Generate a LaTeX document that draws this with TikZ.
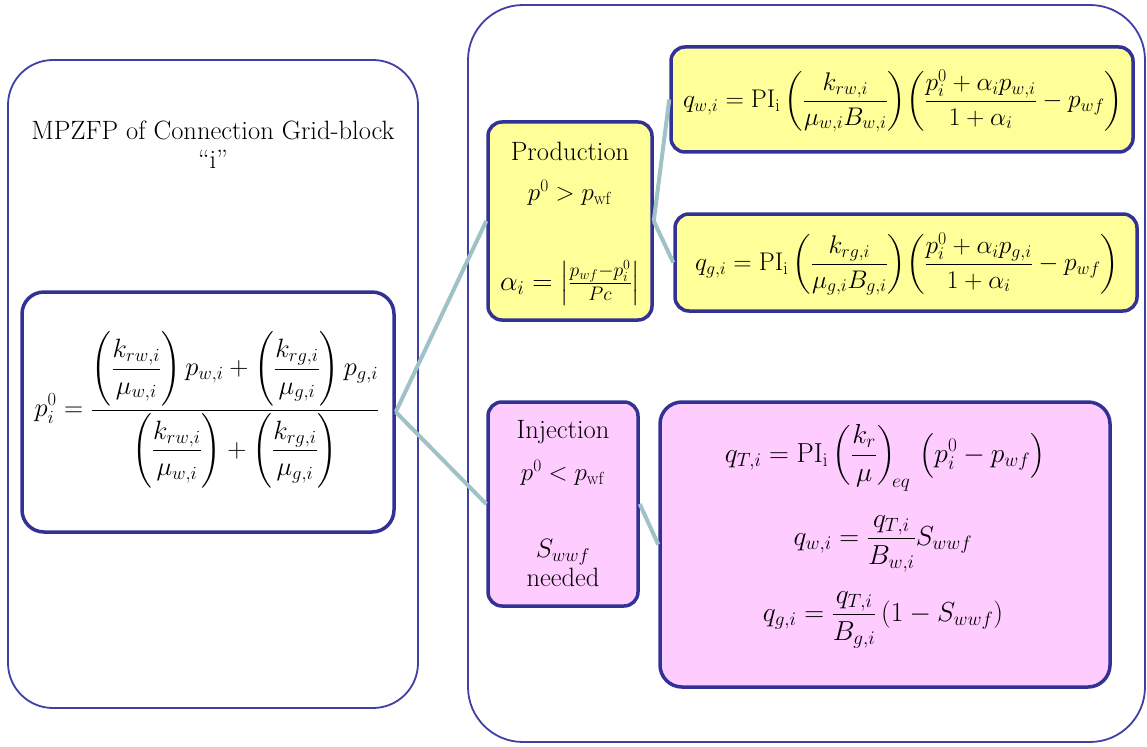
\RequirePackage{fix-cm}
\documentclass[tikz,border=0pt]{standalone}
\usepackage{amsmath}
\definecolor{frameblue}{RGB}{64,64,164}
\definecolor{boxblue}{RGB}{50,50,150}
\definecolor{conn}{RGB}{158,194,198}
\definecolor{yel}{RGB}{255,255,153}
\definecolor{pnk}{RGB}{255,204,255}
\begin{document}
\begin{tikzpicture}[x=1pt,y=-1pt,
  outer/.style={draw=frameblue, line width=1.8pt, rounded corners=45pt, inner sep=0pt},
  eqbox/.style={draw=boxblue, line width=3.5pt, rounded corners=22pt, inner sep=0pt},
  smallbox/.style={draw=boxblue, line width=3.5pt, rounded corners=14pt, inner sep=0pt},
  link/.style={draw=conn, line width=4pt},
  lbl/.style={inner sep=0pt, align=center, font=\fontsize{26.5}{29}\selectfont},
  eq/.style={inner sep=0pt, font=\fontsize{25}{29}\selectfont},
  eqa/.style={inner sep=0pt, font=\fontsize{25.5}{30}\selectfont},
  eqb/.style={inner sep=0pt, font=\fontsize{27.5}{32}\selectfont}]
\useasboundingbox (0,0) rectangle (1147,746);
% outer frames
\node[outer, minimum width=410pt, minimum height=648pt] (left) at (213,384) {};
\node[outer, rounded corners=55pt, minimum width=677pt, minimum height=737pt] (right) at (806.5,373.5) {};
% boxes
\node[eqbox, fill=white, minimum width=372pt, minimum height=240pt] (p) at (208,412) {};
\node[smallbox, fill=yel, minimum width=164pt, minimum height=198pt] (prod) at (570,221) {};
\node[smallbox, fill=yel, minimum width=462pt, minimum height=105pt] (qw) at (902,99.5) {};
\node[smallbox, fill=yel, minimum width=462pt, minimum height=97pt] (qg) at (906,262.5) {};
\node[smallbox, fill=pnk, minimum width=150pt, minimum height=204pt] (inj) at (563,504) {};
\node[eqbox, fill=pnk, minimum width=450pt, minimum height=285pt] (qt) at (885,544.5) {};
% connectors
\draw[link] (p.east) -- (prod.west);
\draw[link] (p.east) -- (inj.west);
\draw[link] (prod.east) -- (qw.west);
\draw[link] (prod.east) -- (qg.west);
\draw[link] (inj.east) -- (qt.west);
% texts
\node[lbl] (title) at (213,145) {MPZFP of Connection Grid-block\\``i''};
\node[eq, font=\fontsize{26.5}{30}\selectfont] (peq) at (207,410) {$\displaystyle p_i^0=\frac{\left(\dfrac{k_{rw,i}}{\mu_{w,i}}\right)p_{w,i}+\left(\dfrac{k_{rg,i}}{\mu_{g,i}}\right)p_{g,i}}{\left(\dfrac{k_{rw,i}}{\mu_{w,i}}\right)+\left(\dfrac{k_{rg,i}}{\mu_{g,i}}\right)}$};
\node[lbl] (prodt) at (570,151) {Production};
\node[eq] (prodc) at (570,193) {$p^0 > p_{\mathrm{wf}}$};
\node[eq, font=\fontsize{28}{32}\selectfont] (alpha) at (570,283) {$\alpha_i = \left|\frac{p_{wf}-p_i^0}{Pc}\right|$};
\node[eqa] (qweq) at (903,101) {$\displaystyle q_{w,i}=\mathrm{PI}_{\mathrm{i}}\left(\frac{k_{rw,i}}{\mu_{w,i}B_{w,i}}\right)\!\left(\frac{p_i^0+\alpha_i p_{w,i}}{1+\alpha_i}-p_{wf}\right)$};
\node[eqa] (qgeq) at (907,264) {$\displaystyle q_{g,i}=\mathrm{PI}_{\mathrm{i}}\left(\frac{k_{rg,i}}{\mu_{g,i}B_{g,i}}\right)\!\left(\frac{p_i^0+\alpha_i p_{g,i}}{1+\alpha_i}-p_{wf}\right)$};
\node[lbl] (injt) at (563,432) {Injection};
\node[eq] (injc) at (563,473) {$p^0 < p_{\mathrm{wf}}$};
\node[lbl] (sw) at (563,563) {$S_{wwf}$\\needed};
\node[eqb] (qteq) at (885,458) {$\displaystyle q_{T,i}=\mathrm{PI}_{\mathrm{i}}\left(\frac{k_r}{\mu}\right)_{\!eq}\,\left(p_i^0-p_{wf}\right)$};
\node[eqb] (qwteq) at (883,544) {$\displaystyle q_{w,i}=\frac{q_{T,i}}{B_{w,i}}S_{wwf}$};
\node[eqb] (qgteq) at (883,620) {$\displaystyle q_{g,i}=\frac{q_{T,i}}{B_{g,i}}\left(1-S_{wwf}\right)$};
\end{tikzpicture}
\end{document}
